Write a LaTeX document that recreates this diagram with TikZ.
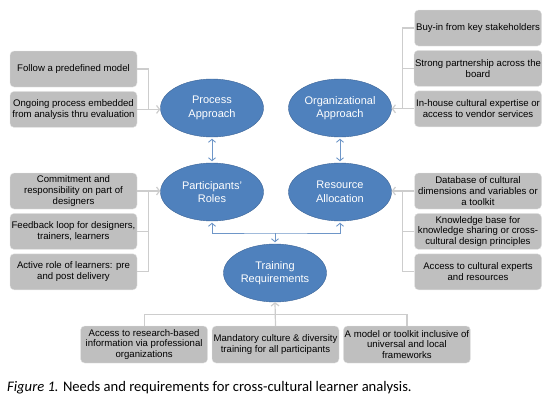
\documentclass[tikz,border=0pt]{standalone}
\usepackage{fontspec}
\setmainfont{Liberation Sans}
\newfontfamily\capfont{Carlito}
\usepackage{xcolor}
\usetikzlibrary{arrows.meta, positioning, shapes.geometric}
\definecolor{ovalblue}{RGB}{79,129,189}
\definecolor{ovaledge}{RGB}{60,100,150}
\definecolor{boxgray}{RGB}{191,191,191}
\definecolor{linkgray}{RGB}{205,205,205}
\definecolor{linkblue}{RGB}{110,150,200}

\begin{document}
\begin{tikzpicture}[x=1pt, y=-1pt,
      oval/.style={ellipse, draw=ovaledge, fill=ovalblue, text=white, minimum width=103pt, minimum height=58pt, inner sep=0pt, align=center, font=\fontsize{11}{13.5}\selectfont},
      note/.style={draw=gray!20, rounded corners=4pt, fill=boxgray, minimum width=127pt, minimum height=36pt, inner sep=1pt, align=center, font=\fontsize{9.6}{10.8}\selectfont},
      link/.style={draw=linkgray, line width=1.2pt},
      arr/.style={link, -{Straight Barb[length=3pt, width=8pt]}},
      bi/.style={draw=linkblue, line width=0.9pt, {Straight Barb[length=3pt, width=7pt]}-{Straight Barb[length=3pt, width=7pt]}, shorten <=1.5pt, shorten >=1.5pt},
      down/.style={draw=linkblue, line width=0.9pt, -{Straight Barb[length=3pt, width=7pt]}}
    ]
    \useasboundingbox (0,0) rectangle (555,413);

    \node[oval] (pa) at (212,108) {Process\\Approach};
    \node[oval] (oa) at (340,108) {Organizational\\Approach};
    \node[oval] (pr) at (212,192) {Participants'\\Roles};
    \node[oval] (ra) at (340,192) {Resource\\Allocation};
    \node[oval] (tr) at (275,273) {Training\\Requirements};

    \node[note] (pa1) at (73.5,69) {Follow a predefined model};
    \node[note, below=4pt of pa1] (pa2) {Ongoing process embedded\\from analysis thru evaluation};

    \node[note] (oa1) at (478,28) {Buy-in from key stakeholders};
    \node[note, below=4pt of oa1] (oa2) {Strong partnership across the\\board};
    \node[note, below=4pt of oa2] (oa3) {In-house cultural expertise or\\access to vendor services};

    \node[note] (pr1) at (73.5,191) {Commitment and\\responsibility on part of\\designers};
    \node[note, below=4pt of pr1] (pr2) {Feedback loop for designers,\\trainers, learners};
    \node[note, below=4pt of pr2] (pr3) {Active role of learners: pre\\and post delivery};

    \node[note] (ra1) at (478,191) {Database of cultural\\dimensions and variables or\\a toolkit};
    \node[note, below=4pt of ra1] (ra2) {Knowledge base for\\knowledge sharing or cross-\\cultural design principles};
    \node[note, below=4pt of ra2] (ra3) {Access to cultural experts\\and resources};

    \node[note, minimum height=37pt] (tr2) at (275.5,344.5) {Mandatory culture \& diversity\\training for all participants};
    \node[note, minimum height=37pt, left=4pt of tr2] (tr1) {Access to research-based\\information via professional\\organizations};
    \node[note, minimum height=37pt, right=4pt of tr2] (tr3) {A model or toolkit inclusive of\\universal and local\\frameworks};

    \node[anchor=west, inner sep=0pt, font=\capfont\fontsize{14.6}{16}\selectfont] (cap) at (7,388) {\textit{Figure 1.} Needs and requirements for cross-cultural learner analysis.};

    \draw[link] (pa1.east) -- ++(11,0) |- (pa2.east);
    \draw[arr] (pa2.east) -- (pa2.east -| pa.west);

    \draw[link] (oa1.west) -- ++(-12,0) |- (oa3.west);
    \draw[link] (oa2.west) -- ++(-12,0);
    \draw[arr] (oa3.west) -- (oa3.west -| oa.east);

    \draw[link] (pr3.east) -- ++(11,0) |- (pr1.east);
    \draw[link] (pr2.east) -- ++(11,0);
    \draw[arr] (pr1.east) -- (pr1.east -| pr.west);

    \draw[link] (ra3.west) -- ++(-12,0) |- (ra1.west);
    \draw[link] (ra2.west) -- ++(-12,0);
    \draw[arr] (ra1.west) -- (ra1.west -| ra.east);

    \draw[link] (tr1.north) -- ++(0,-11) -| (tr3.north);
    \draw[arr] (tr2.north) -- (tr.south);

    \coordinate (fork) at (275,233);
    \draw[bi] (pa) -- (pr);
    \draw[bi] (oa) -- (ra);
    \draw[bi] (pr.south) |- (fork) -| (ra.south);
    \draw[down, shorten >=1.5pt] (fork) -- (tr.north);
  \end{tikzpicture}
\end{document}
